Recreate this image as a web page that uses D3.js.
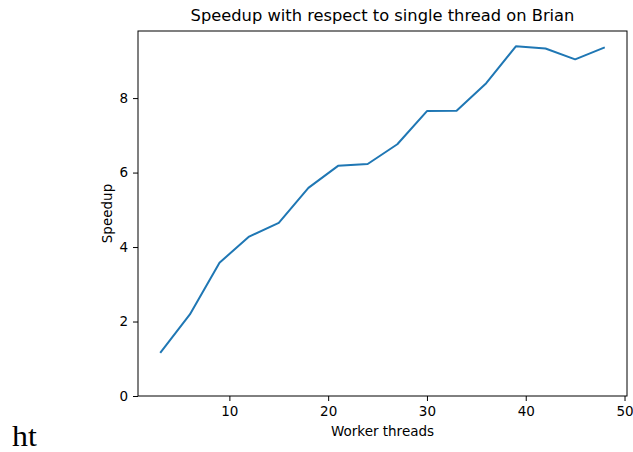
<!DOCTYPE html>
<meta charset="utf-8">
<style>
	body { margin: 0; background: #fff; }
	text { font-family: "DejaVu Sans", sans-serif; fill: #000; }
	.axis path, .axis line { stroke: #000; stroke-width: 1px; }
	.axis text { font-size: 13.5px; }
	.line { fill: none; stroke: #1f77b4; stroke-width: 2px; stroke-linejoin: round; }
</style>
<svg width="633" height="452"></svg>
<script src="https://cdn.jsdelivr.net/npm/d3@7"></script>
<script>

var threads = [3, 6, 9, 12, 15, 18, 21, 24, 27, 30, 33, 36, 39, 42, 45, 48];
var speedup = [1.16, 2.19, 3.58, 4.28, 4.65, 5.59, 6.18, 6.23, 6.76, 7.65, 7.66, 8.40, 9.39, 9.33, 9.04, 9.36];
var xTicks = [10, 20, 30, 40, 50];
var yTicks = [0, 2, 4, 6, 8];

var svg = d3.select("svg"),
	margin = {top: 31, right: 6, bottom: 56, left: 138},
	width = svg.attr("width") - margin.left - margin.right,
	height = svg.attr("height") - margin.top - margin.bottom,
	g = svg.append("g").attr("transform", "translate(" + margin.left + "," + margin.top + ")");

// matplotlib-style 5% padding on x, y starts at 0
var xpad = (d3.max(threads) - d3.min(threads)) * 0.05;
var x = d3.scaleLinear()
	.domain([d3.min(threads) - xpad, d3.max(threads) + xpad])
	.range([0, width]);

var ymax = d3.max(speedup) + (d3.max(speedup) - d3.min(speedup)) * 0.05;
var y = d3.scaleLinear().domain([0, ymax]).range([height, 0]);

var line = d3.line()
	.x(function(d, i) { return x(threads[i]); })
	.y(function(d) { return y(d); });

g.append("path")
	.datum(speedup)
	.attr("class", "line")
	.attr("d", line);

// frame
g.append("rect")
	.attr("width", width)
	.attr("height", height)
	.attr("fill", "none")
	.attr("stroke", "#000")
	.attr("stroke-width", 1);

g.append("g")
	.attr("class", "axis axis--x")
	.attr("transform", "translate(0," + height + ")")
	.call(d3.axisBottom(x).tickValues(xTicks).tickSize(5).tickPadding(5).tickSizeOuter(0));

g.append("g")
	.attr("class", "axis axis--y")
	.call(d3.axisLeft(y).tickValues(yTicks).tickSize(5).tickPadding(5).tickSizeOuter(0));

g.selectAll(".axis .domain").remove();

svg.append("text")
	.attr("x", margin.left + width / 2)
	.attr("y", 21)
	.attr("text-anchor", "middle")
	.style("font-size", "16.3px")
	.text("Speedup with respect to single thread on Brian");

svg.append("text")
	.attr("x", margin.left + width / 2)
	.attr("y", 436)
	.attr("text-anchor", "middle")
	.style("font-size", "13.5px")
	.text("Worker threads");

svg.append("text")
	.attr("transform", "translate(112," + (margin.top + height / 2) + ") rotate(-90)")
	.attr("text-anchor", "middle")
	.style("font-size", "13.5px")
	.text("Speedup");

svg.append("text")
	.attr("transform", "translate(12,445.5) scale(1.18,1.07)")
	.style("font-family", "'Liberation Serif', serif")
	.style("font-size", "27px")
	.text("ht");

</script>
